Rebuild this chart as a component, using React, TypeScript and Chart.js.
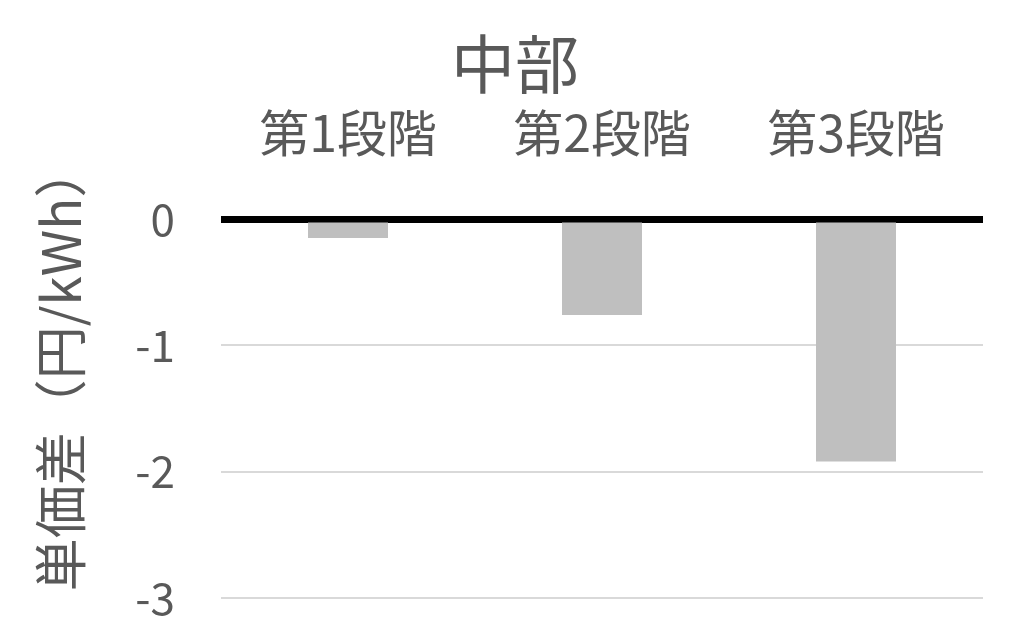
import { useEffect, useRef } from 'react';
import { Chart, registerables } from 'chart.js';

Chart.register(...registerables);

const chartTitle = '中部';
const yAxisTitle = '単価差（円/kWh）';
const stages = ['第1段階', '第2段階', '第3段階'];
const priceDiff = [-0.15, -0.76, -1.92];

const TEXT = '#595959';
const FONT = '"Noto Sans CJK JP", "Noto Sans", sans-serif';

// chart title and the rotated y title, placed where Excel puts them
const textPlugin = {
  id: 'excelTexts',
  afterDraw(chart: Chart) {
    const ctx = chart.ctx;
    ctx.save();
    ctx.fillStyle = TEXT;
    ctx.textAlign = 'center';
    ctx.textBaseline = 'middle';
    ctx.font = `64px ${FONT}`;
    ctx.fillText(chartTitle, 515, 64);
    ctx.translate(61, 368);
    ctx.rotate(-Math.PI / 2);
    ctx.font = `53px ${FONT}`;
    ctx.fillText(yAxisTitle, 0, 0);
    ctx.restore();
  },
};

const App = () => {
  const canvasRef = useRef<HTMLCanvasElement>(null);
  const chartInstance = useRef<Chart | null>(null);

  useEffect(() => {
    if (!canvasRef.current) return;
    if (chartInstance.current) chartInstance.current.destroy();

    chartInstance.current = new Chart(canvasRef.current, {
      type: 'bar',
      data: {
        labels: stages,
        datasets: [
          {
            data: priceDiff,
            backgroundColor: '#bfbfbf',
            borderWidth: 0,
            categoryPercentage: 1,
            barPercentage: 0.315,
          },
        ],
      },
      options: {
        animation: false,
        responsive: false,
        layout: { padding: { right: 41, top: 100, bottom: 41, left: 0 } },
        plugins: {
          legend: { display: false },
          tooltip: { enabled: false },
          title: { display: false },
        },
        scales: {
          x: {
            position: 'top',
            grid: { display: false, drawTicks: false },
            border: { display: false },
            ticks: {
              color: TEXT,
              padding: 56,
              font: { family: FONT, size: 50 },
            },
            afterFit: (scale: any) => {
              scale.height = 119;
            },
          },
          y: {
            min: -3,
            max: 0,
            ticks: {
              stepSize: 1,
              color: TEXT,
              padding: 0,
              font: { family: FONT, size: 44 },
            },
            grid: {
              drawTicks: true,
              tickLength: 46,
              tickColor: 'rgba(0,0,0,0)',
              color: (c: any) => (c.tick && c.tick.value === 0 ? '#000000' : '#d9d9d9'),
              lineWidth: (c: any) => (c.tick && c.tick.value === 0 ? 7 : 2),
            },
            border: { display: false },
            afterFit: (scale: any) => {
              scale.width = 221;
            },
          },
        },
      },
      plugins: [textPlugin],
    });

    return () => {
      if (chartInstance.current) {
        chartInstance.current.destroy();
        chartInstance.current = null;
      }
    };
  }, []);

  return (
    <div style={{ position: 'absolute', left: 0, top: 0, width: 1024, height: 639, background: '#fff' }}>
      <canvas ref={canvasRef} width={1024} height={639} />
    </div>
  );
};

export default App;
